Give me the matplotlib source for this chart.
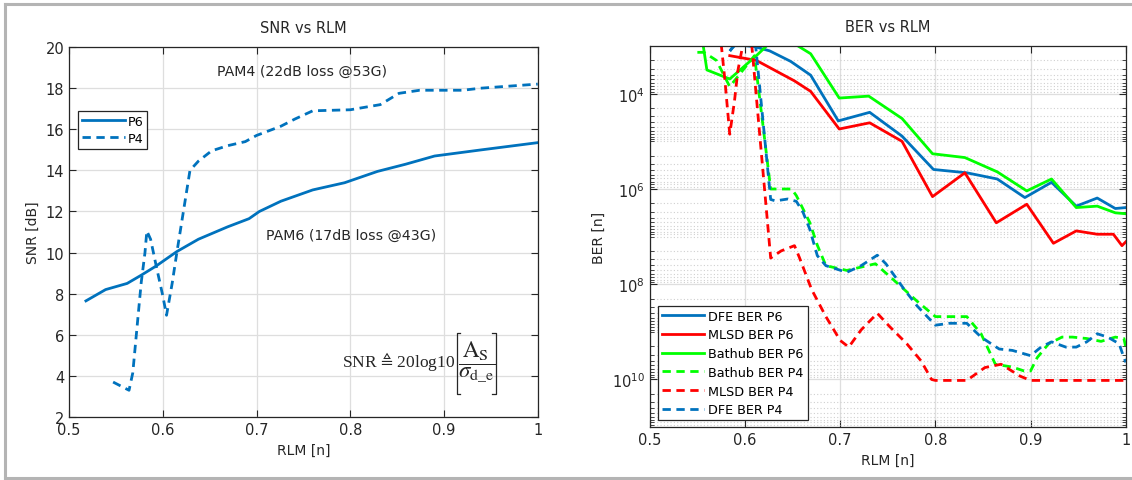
import numpy as np
import matplotlib.pyplot as plt
from matplotlib.lines import Line2D
from matplotlib.ticker import FixedLocator, NullFormatter

plt.rcParams['font.family'] = ['DejaVu Sans']

# SNR vs RLM
rlm_p6 = [0.518, 0.539, 0.562, 0.577, 0.593, 0.615, 0.638, 0.669, 0.692, 0.703, 0.726,
          0.760, 0.794, 0.829, 0.859, 0.890, 0.940, 1.000]
snr_p6 = [7.65, 8.2, 8.5, 8.9, 9.35, 10.05, 10.65, 11.25, 11.65, 12.0, 12.5,
          13.05, 13.4, 13.95, 14.3, 14.7, 15.0, 15.35]
rlm_p4 = [0.547, 0.564, 0.568, 0.573, 0.577, 0.581, 0.583, 0.587, 0.593, 0.600, 0.604,
          0.610, 0.615, 0.629, 0.638, 0.652, 0.669, 0.688, 0.700, 0.726, 0.741, 0.760,
          0.800, 0.832, 0.852, 0.874, 0.920, 0.939, 1.000]
snr_p4 = [3.7, 3.3, 4.15, 6.6, 8.55, 10.0, 11.05, 10.65, 9.35, 7.9, 6.95,
          8.5, 10.0, 14.0, 14.45, 14.95, 15.2, 15.4, 15.7, 16.15, 16.5, 16.9,
          16.95, 17.2, 17.75, 17.9, 17.9, 18.0, 18.2]

# BER vs RLM (exponents of the plotted values)
rlm_dfe6 = [0.585, 0.588, 0.600, 0.610, 0.626, 0.648, 0.669, 0.698, 0.731, 0.765, 0.798,
            0.833, 0.865, 0.894, 0.922, 0.948, 0.970, 0.989, 1.000]
exp_dfe6 = [3.08, 2.99, 2.99, 3.01, 3.1, 3.32, 3.61, 4.57, 4.39, 4.89, 5.59,
            5.66, 5.79, 6.18, 5.86, 6.36, 6.19, 6.41, 6.39]
rlm_mlsd6 = [0.584, 0.612, 0.652, 0.669, 0.699, 0.731, 0.765, 0.797, 0.831, 0.864, 0.896,
             0.924, 0.948, 0.970, 0.987, 0.996, 1.000]
exp_mlsd6 = [3.2, 3.3, 3.73, 3.95, 4.74, 4.61, 5.0, 6.16, 5.66, 6.71, 6.32,
             7.14, 6.88, 6.95, 6.95, 7.19, 7.11]
rlm_bath6 = [0.556, 0.560, 0.584, 0.612, 0.624, 0.640, 0.656, 0.669, 0.699, 0.730, 0.765,
             0.797, 0.831, 0.865, 0.896, 0.922, 0.948, 0.970, 0.989, 1.000]
exp_bath6 = [2.97, 3.5, 3.69, 3.2, 2.97, 2.7, 3.0, 3.16, 4.09, 4.05, 4.52,
             5.26, 5.34, 5.64, 6.04, 5.79, 6.39, 6.36, 6.5, 6.52]
rlm_bath4 = [0.550, 0.557, 0.570, 0.584, 0.610, 0.627, 0.632, 0.649, 0.654, 0.668, 0.676,
             0.685, 0.707, 0.722, 0.737, 0.759, 0.781, 0.800, 0.815, 0.833, 0.848, 0.863,
             0.881, 0.893, 0.900, 0.907, 0.919, 0.933, 0.944, 0.959, 0.974, 0.989, 0.998, 1.000]
exp_bath4 = [3.13, 3.13, 3.3, 3.85, 3.2, 6.0, 6.0, 6.0, 6.14, 6.7, 7.18,
             7.61, 7.71, 7.64, 7.57, 7.96, 8.36, 8.68, 8.68, 8.68, 9.04, 9.68,
             9.74, 9.82, 9.82, 9.54, 9.25, 9.11, 9.11, 9.14, 9.2, 9.11, 9.14, 9.32]
rlm_mlsd4 = [0.575, 0.579, 0.584, 0.589, 0.5925, 0.598, 0.603, 0.607, 0.627, 0.638, 0.652,
             0.657, 0.670, 0.685, 0.700, 0.709, 0.722, 0.739, 0.752, 0.770, 0.785, 0.796,
             0.800, 0.833, 0.852, 0.869, 0.889, 0.900, 1.000]
exp_mlsd4 = [2.95, 3.73, 4.85, 4.15, 3.52, 2.95, 2.7, 2.95, 7.45, 7.3, 7.19,
             7.43, 8.11, 8.68, 9.18, 9.32, 8.96, 8.61, 8.89, 9.25, 9.61, 10.0,
             10.02, 10.02, 9.75, 9.68, 9.93, 10.02, 10.02]
rlm_dfe4 = [0.584, 0.590, 0.605, 0.611, 0.627, 0.632, 0.645, 0.654, 0.661, 0.668, 0.676,
            0.685, 0.707, 0.722, 0.739, 0.748, 0.767, 0.781, 0.800, 0.815, 0.833, 0.848,
            0.867, 0.881, 0.900, 0.911, 0.922, 0.937, 0.948, 0.959, 0.970, 0.981, 0.993,
            0.998, 1.000]
exp_dfe4 = [3.1, 2.97, 2.97, 2.95, 6.22, 6.25, 6.21, 6.26, 6.49, 6.84, 7.4,
            7.61, 7.75, 7.61, 7.39, 7.57, 8.1, 8.46, 8.86, 8.82, 8.82, 9.11,
            9.36, 9.39, 9.5, 9.32, 9.21, 9.32, 9.32, 9.21, 9.04, 9.11, 9.25,
            9.54, 9.64]

blue = '#0072BD'
red = '#FF0000'
green = '#00FF00'
axc = '#262626'
dash = (3, 2)

fig = plt.figure(figsize=(11.32, 4.81), dpi=100)
ax1 = fig.add_axes([0.061, 0.131, 0.414, 0.769])
ax2 = fig.add_axes([0.574, 0.110, 0.4205, 0.792])

# grey frame around the picture
for xs, ys in [([0.0044, 1], [0.9896, 0.9896]), ([0.0044, 0.0044], [0.004, 0.9896]),
               ([0.0044, 1], [0.004, 0.004])]:
    fig.add_artist(Line2D(xs, ys, color='#b4b4b4', lw=2.2, transform=fig.transFigure))


def style(ax):
    for s in ax.spines.values():
        s.set_color(axc)
        s.set_linewidth(0.9)
    ax.tick_params(which='both', direction='in', top=True, right=True,
                   colors=axc, labelsize=10.5, labelcolor=axc)
    ax.tick_params(which='major', length=5)
    ax.tick_params(which='minor', length=3)
    ax.set_axisbelow(True)


# left: SNR
ax1.plot(rlm_p6, snr_p6, color=blue, lw=2, label='P6')
ax1.plot(rlm_p4, snr_p4, color=blue, lw=2, dashes=dash, label='P4')
ax1.set_xlim(0.5, 1)
ax1.set_ylim(2, 20)
ax1.set_xticks(np.arange(0.5, 1.01, 0.1))
ax1.set_xticklabels(['0.5', '0.6', '0.7', '0.8', '0.9', '1'])
ax1.set_yticks(np.arange(2, 21, 2))
ax1.grid(True, color='#dedede', lw=0.9)
style(ax1)
ax1.set_title('SNR vs RLM', fontsize=10.5, color=axc, pad=11)
ax1.set_xlabel('RLM [n]', fontsize=10, color=axc)
ax1.set_ylabel('SNR [dB]', fontsize=10, color=axc)
ax1.text(0.748, 18.82, 'PAM4 (22dB loss @53G)', fontsize=10.2, color=axc,
         ha='center', va='center')
ax1.text(0.801, 10.85, 'PAM6 (17dB loss @43G)', fontsize=10.2, color=axc,
         ha='center', va='center')
leg1 = ax1.legend(loc='upper left', bbox_to_anchor=(0.019, 0.827), borderaxespad=0,
                  fontsize=9.2, handlelength=3.4, fancybox=False, framealpha=1,
                  edgecolor=axc, borderpad=0.3, labelspacing=0.3, handletextpad=0.2)
leg1.get_frame().set_linewidth(0.9)

# SNR definition: text, fraction and thin square brackets
ax1.text(0.9115, 4.73, r'SNR$\,\triangleq\,$20log10', fontsize=12.5, color=axc,
         ha='right', va='center', family='Liberation Serif', math_fontfamily='stix')
ax1.text(0.9345, 4.68, r'$\dfrac{\mathrm{A_S}}{\sigma_{\mathrm{d\_e}}}$',
         fontsize=16.5, color=axc, ha='center', va='center', math_fontfamily='stix')
for bx, tip in [(0.9136, 0.004), (0.955, -0.004)]:
    ax1.add_line(Line2D([bx + tip, bx, bx, bx + tip], [6.09, 6.09, 3.12, 3.12],
                        color=axc, lw=0.9))

# right: BER
ax2.plot(rlm_dfe6, 10.0 ** np.array(exp_dfe6), color=blue, lw=2, label='DFE BER P6')
ax2.plot(rlm_mlsd6, 10.0 ** np.array(exp_mlsd6), color=red, lw=2, label='MLSD BER P6')
ax2.plot(rlm_bath6, 10.0 ** np.array(exp_bath6), color=green, lw=2, label='Bathub BER P6')
ax2.plot(rlm_bath4, 10.0 ** np.array(exp_bath4), color=green, lw=2, dashes=dash,
         label='Bathub BER P4')
ax2.plot(rlm_mlsd4, 10.0 ** np.array(exp_mlsd4), color=red, lw=2, dashes=dash,
         label='MLSD BER P4')
ax2.plot(rlm_dfe4, 10.0 ** np.array(exp_dfe4), color=blue, lw=2, dashes=dash,
         label='DFE BER P4')
ax2.set_yscale('log')
ax2.set_xlim(0.5, 1)
ax2.set_ylim(1e11, 1e3)
ax2.set_xticks(np.arange(0.5, 1.01, 0.1))
ax2.set_xticklabels(['0.5', '0.6', '0.7', '0.8', '0.9', '1'])
majors = [1e4, 1e6, 1e8, 1e10]
minors = [k * 10.0 ** n for n in range(3, 11) for k in range(1, 10)
          if k * 10.0 ** n not in majors and k * 10.0 ** n <= 1e11]
ax2.yaxis.set_major_locator(FixedLocator(majors))
ax2.yaxis.set_minor_locator(FixedLocator(minors))
ax2.yaxis.set_minor_formatter(NullFormatter())
ax2.grid(True, which='major', color='#dedede', lw=0.9)
ax2.grid(True, which='minor', axis='y', color='#d0d0d0', lw=0.8, ls=(0, (1, 2)))
style(ax2)
ax2.set_title('BER vs RLM', fontsize=10.5, color=axc, pad=11)
ax2.set_xlabel('RLM [n]', fontsize=10, color=axc)
ax2.set_ylabel('BER [n]', fontsize=10, color=axc)
leg2 = ax2.legend(loc='lower left', bbox_to_anchor=(0.017, 0.018), borderaxespad=0,
                  fontsize=9.2, handlelength=3.3, fancybox=False, framealpha=1,
                  edgecolor=axc, borderpad=0.3, labelspacing=0.45, handletextpad=0.35)
leg2.get_frame().set_linewidth(0.9)

fig.savefig('out.png', dpi=100)
